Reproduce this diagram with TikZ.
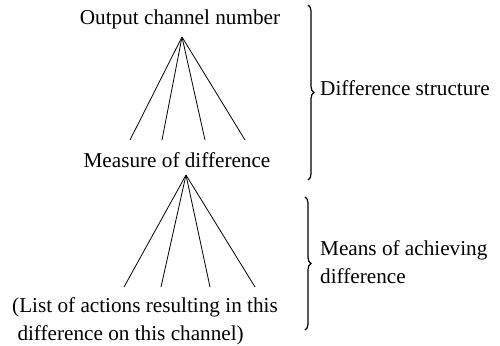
\documentclass[tikz,border=0pt]{standalone}
\usepackage{fontspec}
\setmainfont{Liberation Serif}
\usetikzlibrary{decorations.pathreplacing}
\begin{document}
\begin{tikzpicture}[x=1pt,y=1pt,
  lbl/.style={inner sep=0pt, font=\fontsize{21.2}{28}\selectfont, align=left},
  fan/.style={line width=0.8pt},
  brc/.style={line width=1.2pt, decorate, decoration={brace, amplitude=6pt}}]
\useasboundingbox (0,0) rectangle (500,-345);
% texts
\node[lbl] (out) at (180,-19) {Output channel number};
\node[lbl] (meas) at (177,-160) {Measure of difference};
\node[lbl, anchor=west] (list) at (12,-321) {(List of actions resulting in this\\\ difference on this channel)};
\node[lbl, anchor=west] (ds) at (320,-88) {Difference structure};
\node[lbl, anchor=west] (means) at (320,-262) {Means of achieving\\difference};
% top fan
\coordinate (a1) at (182,-37);
\coordinate (t1) at (130,-140);
\coordinate (t2) at (162,-140);
\coordinate (t3) at (205,-140);
\coordinate (t4) at (245,-140);
\foreach \e in {t1,t2,t3,t4} \draw[fan] (a1) -- (\e);
% bottom fan
\coordinate (a2) at (186,-175);
\coordinate (b1) at (124,-287);
\coordinate (b2) at (161,-287);
\coordinate (b3) at (210,-287);
\coordinate (b4) at (255,-287);
\foreach \e in {b1,b2,b3,b4} \draw[fan] (a2) -- (\e);
% braces
\coordinate (br1t) at (308,-5);
\coordinate (br1b) at (308,-180);
\coordinate (br2t) at (305,-197);
\coordinate (br2b) at (305,-330);
\draw[brc] (br1t) -- (br1b);
\draw[brc] (br2t) -- (br2b);
\end{tikzpicture}
\end{document}
